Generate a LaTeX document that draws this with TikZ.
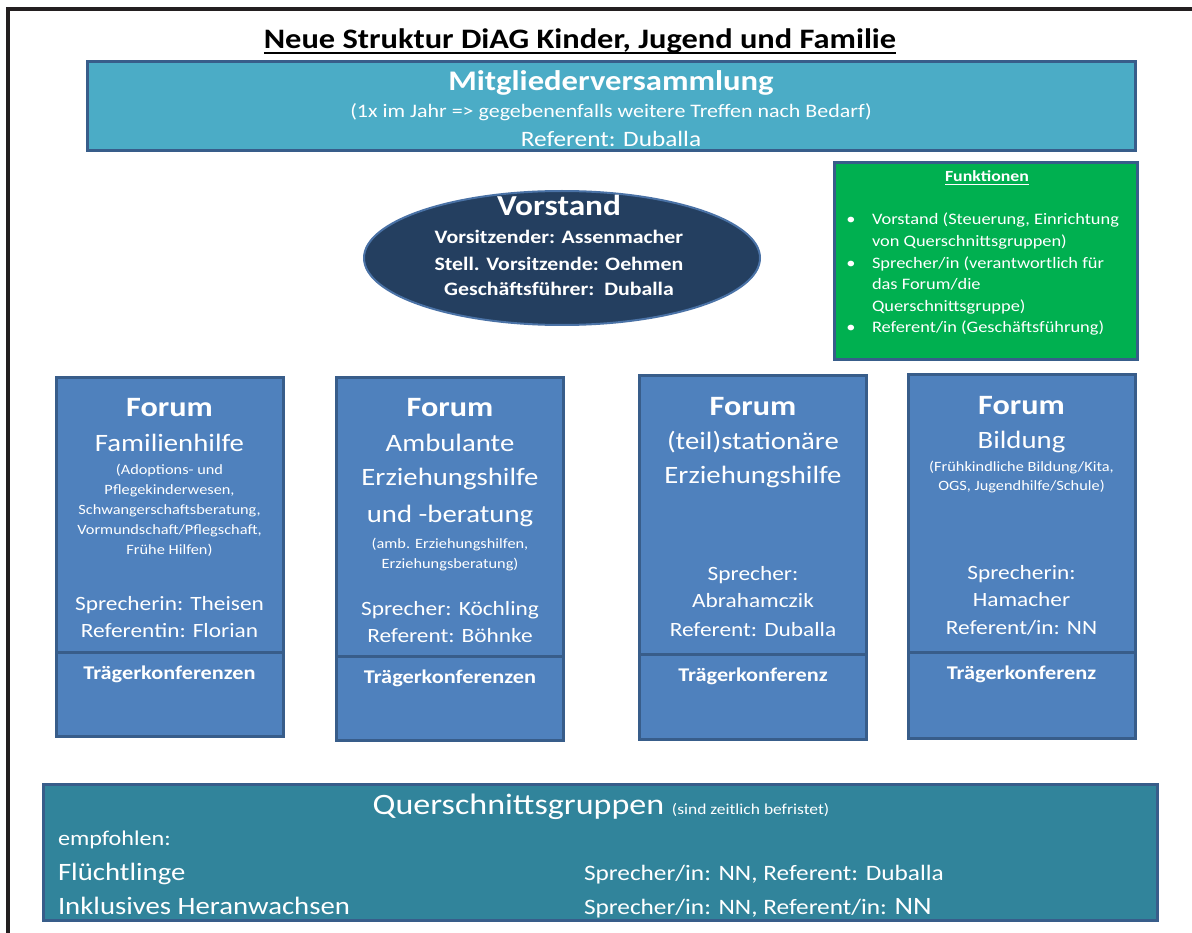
\documentclass[tikz,border=0pt]{standalone}
\usepackage{fontspec}
\setmainfont{Carlito}[FakeStretch=1.15]
\usetikzlibrary{shapes.geometric, positioning}

\definecolor{rim}{HTML}{385D8A}
\definecolor{mvblue}{HTML}{4BACC6}
\definecolor{navy}{HTML}{243F60}
\definecolor{navyrim}{HTML}{4A72A6}
\definecolor{fgreen}{HTML}{00B050}
\definecolor{forumblue}{HTML}{4F81BD}
\definecolor{qgteal}{HTML}{31849B}
\definecolor{framegray}{HTML}{231F20}

\newcommand{\pxsize}[1]{\fontsize{#1}{#1}\selectfont}

\begin{document}
\begin{tikzpicture}[x=1pt, y=-1pt, inner sep=0pt, outer sep=0pt,
    box/.style = {draw=rim, line width=3pt, rectangle},
    forum/.style = {box, fill=forumblue, minimum width=227},
    wt/.style = {text=white, anchor=base},
    small/.style = {wt, font=\pxsize{14.2}},
    mid/.style = {wt, font=\pxsize{20.3}},
    big/.style = {wt, font=\pxsize{25}},
    head/.style = {wt, font=\bfseries\pxsize{28}},
    tk/.style = {wt, font=\bfseries\pxsize{19.4}}]
    \useasboundingbox (0,0) rectangle (1192,933);
    \fill[white] (0,0) rectangle (1192,933);
    % outer frame, cut off at the right and bottom
    \draw[framegray, line width=4] (8,940) -- (8,9.5) -- (1200,9.5);

    % title
    \node[anchor=base, font=\bfseries\pxsize{28.2}] (title) at (580,49) {Neue Struktur DiAG Kinder, Jugend und Familie};
    \draw[line width=2] ([yshift=-4]title.base west) -- ([yshift=-4]title.base east);

    % Mitgliederversammlung
    \node[box, fill=mvblue, minimum width=1048, minimum height=89] (mv) at (611,106.5) {};
    \node[wt, font=\bfseries\pxsize{28.4}] (mvname) at (611,90.5) {Mitgliederversammlung};
    \node[wt, font=\pxsize{19.1}] (mvnote) at (611,117.5) {(1x im Jahr => gegebenenfalls weitere Treffen nach Bedarf)};
    \node[wt, font=\pxsize{22}] (mvref) at (611,147) {Referent: Duballa};

    % Vorstand
    \node[ellipse, draw=navyrim, line width=2, fill=navy, minimum width=396, minimum height=134] (vs) at (562,258) {};
    \node[wt, font=\bfseries\pxsize{29}] (vsname) at (559,216) {Vorstand};
    \node[wt, font=\bfseries\pxsize{19}] (vs1) at (559,243.5) {Vorsitzender: Assenmacher};
    \node[wt, font=\bfseries\pxsize{19}] (vs2) at (559,270.5) {Stell. Vorsitzende: Oehmen};
    \node[wt, font=\bfseries\pxsize{19}] (vs3) at (559,295.5) {Geschäftsführer:\ \ Duballa};

    % Funktionen
    \node[box, fill=fgreen, minimum width=303, minimum height=197] (fk) at (985.5,261.5) {};
    \node[wt, font=\bfseries\pxsize{15.5}] (fkname) at (987,182) {Funktionen};
    \draw[white, line width=1] ([yshift=-2.5]fkname.base west) -- ([yshift=-2.5]fkname.base east);
    \foreach \txt [count=\i] in {{Vorstand (Steuerung, Einrichtung}, {von Querschnittsgruppen)},
        {Sprecher/in (verantwortlich für}, {das Forum/die}, {Querschnittsgruppe)},
        {Referent/in (Geschäftsführung)}}
        \node[wt, anchor=base west, font=\pxsize{16}] (fk-\i) at (872,203.4+21.6*\i) {\txt};
    \foreach \i in {1,3,6}
        \node[wt, font=\pxsize{16}] (dot-\i) at (851,203.4+21.6*\i) {•};

    % Forum Familienhilfe
    \node[forum, minimum height=274] (f1) at (169.5,515) {};
    \node[forum, minimum height=84, below=0pt of f1] (f1tk) {};
    \node[head] (f1head) at (169.5,417) {Forum};
    \node[big] (f1name) at (169.5,451) {Familienhilfe};
    \foreach \txt [count=\i] in {{(Adoptions- und}, {Pflegekinderwesen,}, {Schwangerschaftsberatung,},
        {Vormundschaft/Pflegschaft,}, {Frühe Hilfen)}}
        \node[small] (f1note-\i) at (169.5,454+20*\i) {\txt};
    \node[mid] (f1sp) at (169.5,610) {Sprecherin: Theisen};
    \node[mid] (f1ref) at (169.5,637) {Referentin: Florian};
    \node[tk] (f1tkname) at (169.5,679) {Trägerkonferenzen};

    % Forum Ambulante Erziehungshilfe
    \node[forum, minimum height=278] (f2) at (450,517) {};
    \node[forum, minimum height=84, below=0pt of f2] (f2tk) {};
    \node[head] (f2head) at (450,417) {Forum};
    \node[big] (f2name1) at (450,451) {Ambulante};
    \node[big] (f2name2) at (450,485) {Erziehungshilfe};
    \node[big] (f2name3) at (450,522) {und -beratung};
    \node[small] (f2note1) at (450,548) {(amb. Erziehungshilfen,};
    \node[small] (f2note2) at (450,568) {Erziehungsberatung)};
    \node[mid] (f2sp) at (450,615) {Sprecher: Köchling};
    \node[mid] (f2ref) at (450,642) {Referent: Böhnke};
    \node[tk] (f2tkname) at (450,683) {Trägerkonferenzen};

    % Forum (teil)stationaere Erziehungshilfe
    \node[forum, minimum height=278] (f3) at (753,515) {};
    \node[forum, minimum height=85, below=0pt of f3] (f3tk) {};
    \node[head] (f3head) at (753,415) {Forum};
    \node[big] (f3name1) at (753,449) {(teil)stationäre};
    \node[big] (f3name2) at (753,483) {Erziehungshilfe};
    \node[mid] (f3sp1) at (753,580) {Sprecher:};
    \node[mid] (f3sp2) at (753,607) {Abrahamczik};
    \node[mid] (f3ref) at (753,636) {Referent: Duballa};
    \node[tk] (f3tkname) at (753,681) {Trägerkonferenz};

    % Forum Bildung
    \node[forum, minimum height=277] (f4) at (1021.5,513.5) {};
    \node[forum, minimum height=86, below=0pt of f4] (f4tk) {};
    \node[head] (f4head) at (1021.5,414) {Forum};
    \node[big] (f4name) at (1021.5,448) {Bildung};
    \node[small] (f4note1) at (1021.5,471) {(Frühkindliche Bildung/Kita,};
    \node[small] (f4note2) at (1021.5,490) {OGS, Jugendhilfe/Schule)};
    \node[mid] (f4sp1) at (1021.5,579) {Sprecherin:};
    \node[mid] (f4sp2) at (1021.5,606) {Hamacher};
    \node[mid] (f4ref) at (1021.5,634) {Referent/in: NN};
    \node[tk] (f4tkname) at (1021.5,679) {Trägerkonferenz};

    % Querschnittsgruppen
    \node[box, fill=qgteal, minimum width=1114, minimum height=136] (qg) at (600,852) {};
    \node[wt, font=\pxsize{29.6}] (qgname) at (601,814) {Querschnittsgruppen {\pxsize{15.2}(sind zeitlich befristet)}};
    \node[wt, anchor=base west, font=\pxsize{21}] (qgrec) at (58,845) {empfohlen:};
    \node[wt, anchor=base west, font=\pxsize{25}] (qg1) at (58,880) {Flüchtlinge};
    \node[wt, anchor=base west, font=\pxsize{25}] (qg2) at (58,914) {Inklusives Heranwachsen};
    \node[wt, anchor=base west, font=\pxsize{22}] (qg1sp) at (584,880) {Sprecher/in: NN, Referent: Duballa};
    \node[wt, anchor=base west, font=\pxsize{22}] (qg2sp) at (584,914) {Sprecher/in: NN, Referent/in: {\pxsize{25}NN}};
\end{tikzpicture}
\end{document}
